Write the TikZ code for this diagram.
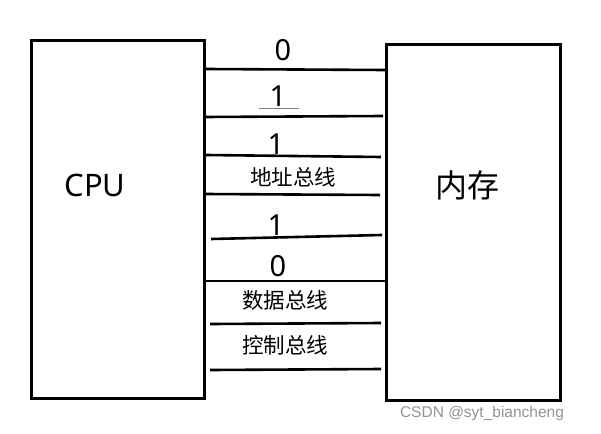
\documentclass[tikz,border=0pt]{standalone}
\usepackage{fontspec}
\setmainfont{Noto Sans}
\newfontfamily\cjk{Noto Sans CJK SC}
\newfontfamily\wm{Liberation Sans}
\begin{document}
\begin{tikzpicture}[x=1pt,y=-1pt,
  unitbox/.style={draw=black,line width=3pt,minimum width=0pt,minimum height=0pt,inner sep=0pt,anchor=north west},
  bus/.style={draw=black,line width=2.6pt},
  bit/.style={font=\fontsize{29}{29}\selectfont,inner sep=0pt},
  buslabel/.style={font=\cjk\fontsize{21.5}{21.5}\selectfont,inner sep=0pt},
  biglabel/.style={font=\cjk\fontsize{32}{32}\selectfont,inner sep=0pt}]
\useasboundingbox[fill=white] (0,0) rectangle (601,433);
% boxes
\node[unitbox,minimum width=173pt,minimum height=358pt] (cpu) at (30,39) {};
\node[unitbox,minimum width=174pt,minimum height=356pt] (mem) at (385,43) {};
\node[biglabel,font=\fontsize{31}{31}\selectfont] (cpulab) at (95,185) {CPU};
\node[biglabel] (memlab) at (467,185) {内存};
% small extra segment at the CPU bottom
\coordinate (cb1) at (39,398.5);
\coordinate (cb2) at (135,398.5);
\draw[line width=2.5pt] (cb1) -- (cb2);
% bus lines
\draw[bus] (cpu.east |- {(0,69)}) -- (mem.west |- {(0,70)});
\draw[bus] ([xshift=-1pt]cpu.east |- {(0,117)}) -- ([xshift=-2pt]mem.west |- {(0,116)});
\draw[bus] (cpu.east |- {(0,155)}) -- ([xshift=-4pt]mem.west |- {(0,157)});
\draw[bus] ([xshift=-1pt]cpu.east |- {(0,194)}) -- ([xshift=-5pt]mem.west |- {(0,195)});
\draw[bus] ([xshift=5pt]cpu.east |- {(0,239)}) -- ([xshift=-3pt]mem.west |- {(0,235)});
\draw[bus] (cpu.east |- {(0,281)}) -- (mem.west |- {(0,281)});
\draw[bus] ([xshift=4pt]cpu.east |- {(0,324)}) -- ([xshift=-4pt]mem.west |- {(0,323)});
\draw[bus] ([xshift=4pt]cpu.east |- {(0,370)}) -- ([xshift=-4pt]mem.west |- {(0,369)});
% labels
\node[bit] (b1) at (283,50) {0};
\node[bit] (b2) at (278,96) {1};
\coordinate (u1) at (259,108);
\coordinate (u2) at (299,108);
\draw[gray,line width=1pt] (u1) -- (u2);
\node[bit] (b3) at (276,144) {1};
\node[buslabel] (addr) at (293,177) {地址总线};
\node[bit] (b4) at (276,225) {1};
\node[bit] (b5) at (278,266) {0};
\node[buslabel] (data) at (285,300) {数据总线};
\node[buslabel] (ctrl) at (285,345) {控制总线};
\node[font=\wm\fontsize{15.5}{15.5}\selectfont,text=black!42,inner sep=0pt] (wmk) at (482,413) {CSDN @syt\_biancheng};
\end{tikzpicture}
\end{document}
